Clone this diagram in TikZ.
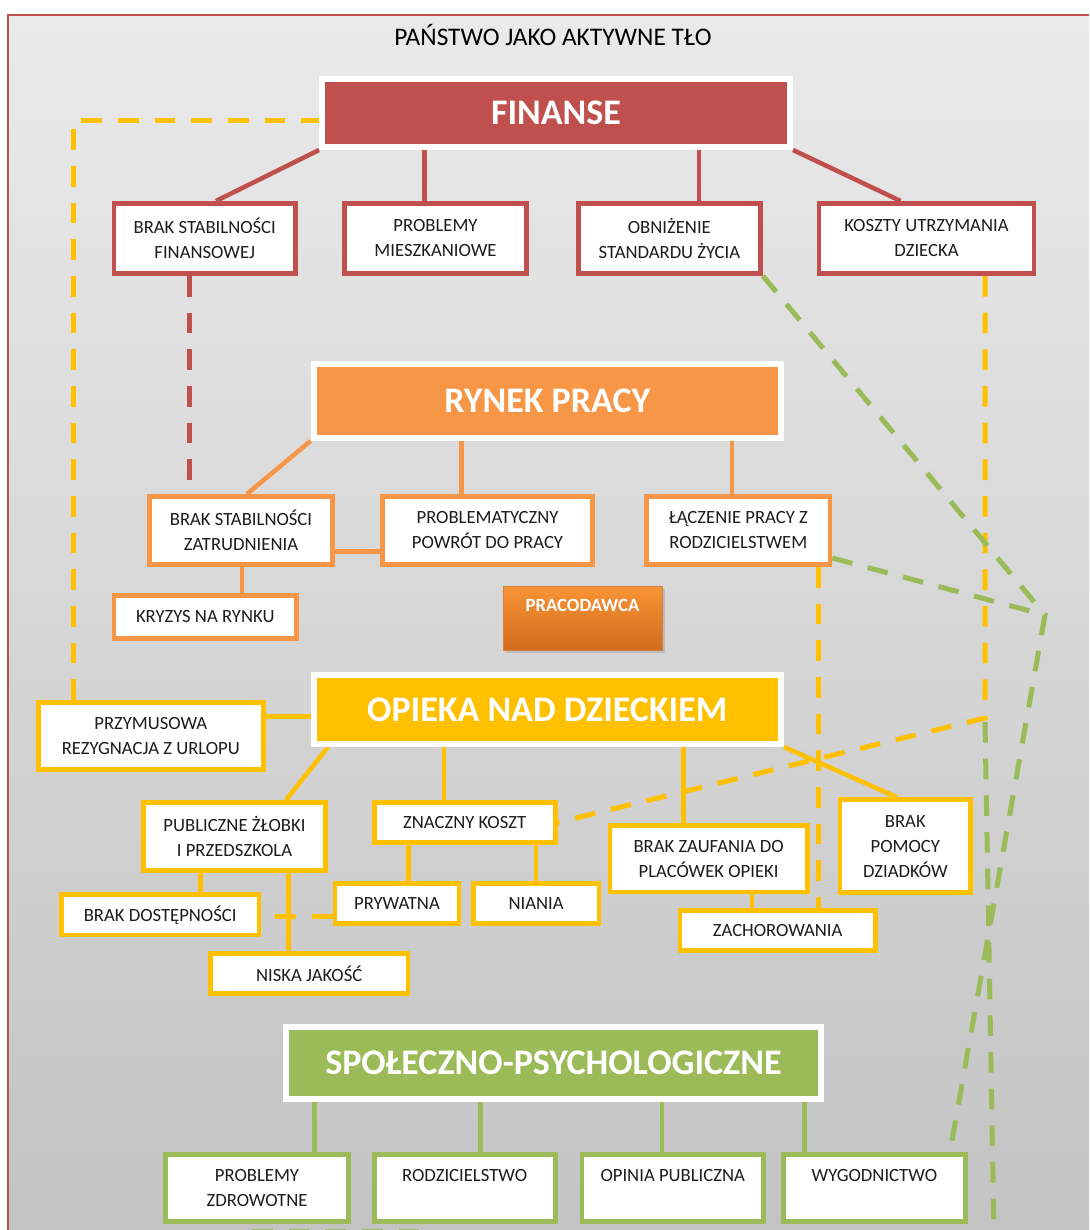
\documentclass[tikz,border=0pt]{standalone}
\usepackage{fontspec}
\setmainfont{Carlito}
\usetikzlibrary{shadows}
\definecolor{cred}{HTML}{C0504D}
\definecolor{corange}{HTML}{F79646}
\definecolor{cyellow}{HTML}{FFC000}
\definecolor{cgreen}{HTML}{9BBB59}
\definecolor{bgtop}{HTML}{EAEAEA}
\definecolor{bgbot}{HTML}{C3C3C3}
\definecolor{txt}{HTML}{1C1C1C}
\definecolor{ptop}{HTML}{F99436}
\definecolor{pbot}{HTML}{D26B1D}
\pgfdeclarelayer{bg}\pgfdeclarelayer{ln}\pgfsetlayers{bg,ln,main}
\begin{document}
\begin{tikzpicture}[x=0.75pt,y=-0.75pt,
 subbox/.style n args={3}{draw=#1, fill=white, line width=3.6pt,
   minimum width={#2*0.75pt-3.6pt}, minimum height={#3*0.75pt-3.6pt},
   inner sep=0pt, align=center, text=txt, font=\fontsize{14}{18.75}\selectfont,
   drop shadow={opacity=0.15,shadow xshift=1.5pt,shadow yshift=-1.5pt}},
 mainbox/.style n args={3}{draw=white, fill=#1, line width=4.5pt,
   minimum width={#2*0.75pt-4.5pt}, minimum height={#3*0.75pt-4.5pt},
   inner sep=0pt, text=white, font=\fontsize{27}{32}\selectfont\bfseries,
   drop shadow={opacity=0.25,shadow xshift=2pt,shadow yshift=-2pt}},
 lnred/.style={cred, line width=3.4pt},
 lnora/.style={corange, line width=3.4pt},
 lnyel/.style={cyellow, line width=3.4pt},
 lngrn/.style={cgreen, line width=3.4pt},
 dsh/.style={line width=3.75pt, dash pattern=on 15.5pt off 12pt},
 dsred/.style={dsh, cred},
 dsyel/.style={dsh, cyellow},
 dsgrn/.style={dsh, cgreen},
]
\useasboundingbox (0,0) rectangle (1089,1230);
\begin{pgfonlayer}{bg}
\fill[white] (0,0) rectangle (1089,1230);
\fill[top color=bgtop, bottom color=bgbot] (8,15) rectangle (1089,1230);
\draw[cred, line width=1.1pt] (1089,15) -- (8,15) -- (8,1230);
\end{pgfonlayer}

\node[anchor=base, font=\fontsize{19}{23}\selectfont, text=black] (T) at (553,46) {PAŃSTWO JAKO AKTYWNE TŁO};

% main boxes
\node[mainbox={cred}{474}{74}] (FIN) at (556,113) {FINANSE};
\node[mainbox={corange}{473.5}{80}] (RYN) at (547.25,401) {RYNEK PRACY};
\node[mainbox={cyellow}{473.5}{75}] (OPI) at (547.25,709.5) {OPIEKA NAD DZIECKIEM};
\node[mainbox={cgreen}{540.2}{78}] (SPO) at (553.5,1063) {SPOŁECZNO-PSYCHOLOGICZNE};

% finanse
\node[subbox={cred}{186.5}{75}] (F1) at (204.75,238.5) {BRAK STABILNOŚCI\\FINANSOWEJ};
\node[subbox={cred}{187}{75}] (F2) at (435.5,238.5) {PROBLEMY\\MIESZKANIOWE};
\node[subbox={cred}{187.3}{75}] (F3) at (669.35,238.5) {OBNIŻENIE\\STANDARDU ŻYCIA};
\node[subbox={cred}{219.8}{75}] (F4) at (926.5,238.5) {KOSZTY UTRZYMANIA\\DZIECKA};

% rynek pracy
\node[subbox={corange}{188}{73}] (R1) at (241,530.5) {BRAK STABILNOŚCI\\ZATRUDNIENIA};
\node[subbox={corange}{215}{73}] (R2) at (487.5,530.5) {PROBLEMATYCZNY\\POWRÓT DO PRACY};
\node[subbox={corange}{188}{73}] (R3) at (738.3,530.5) {ŁĄCZENIE PRACY Z\\RODZICIELSTWEM};
\node[subbox={corange}{187.5}{48}] (R4) at (205.25,617) {KRYZYS NA RYNKU};
\node[draw=corange!85!black, line width=0.6pt, top color=ptop, bottom color=pbot,
  minimum width={159*0.75pt}, minimum height={64*0.75pt}, inner sep=0pt, align=center,
  text=white, font=\fontsize{14}{18.75}\selectfont\bfseries,
  drop shadow={opacity=0.3,shadow xshift=2pt,shadow yshift=-2pt}] (PRA) at (582.5,618) {PRACODAWCA\\\vphantom{X}};

% opieka
\node[subbox={cyellow}{229.6}{72}] (O1) at (150.8,736) {PRZYMUSOWA\\REZYGNACJA Z URLOPU};
\node[subbox={cyellow}{187}{73}] (O2) at (234.5,836.5) {PUBLICZNE ŻŁOBKI\\I PRZEDSZKOLA};
\node[subbox={cyellow}{185.7}{45}] (O3) at (464.65,822.5) {ZNACZNY KOSZT};
\node[subbox={cyellow}{202.3}{45}] (O4) at (160.15,914.8) {BRAK DOSTĘPNOŚCI};
\node[subbox={cyellow}{128.7}{45}] (O5) at (396.95,903.5) {PRYWATNA};
\node[subbox={cyellow}{130.3}{45}] (O6) at (536.15,903.5) {NIANIA};
\node[subbox={cyellow}{202.4}{45}] (O7) at (309.2,973.5) {NISKA JAKOŚĆ};
\node[subbox={cyellow}{202}{71.6}] (O8) at (708.6,858.5) {BRAK ZAUFANIA DO\\PLACÓWEK OPIEKI};
\node[subbox={cyellow}{135.4}{97.7}] (O9) at (905.3,846.15) {BRAK\\POMOCY\\DZIADKÓW};
\node[subbox={cyellow}{200.2}{44.4}] (O10) at (777.7,930.5) {ZACHOROWANIA};

% spoleczno
\node[subbox={cgreen}{188}{72}] (S1) at (257,1188) {PROBLEMY\\ZDROWOTNE};
\node[subbox={cgreen}{185.7}{72}] (S2) at (464.65,1188) {RODZICIELSTWO\\\vphantom{X}};
\node[subbox={cgreen}{186.2}{72}] (S3) at (672.7,1188) {OPINIA PUBLICZNA\\\vphantom{X}};
\node[subbox={cgreen}{186.8}{72}] (S4) at (874.4,1188) {WYGODNICTWO\\\vphantom{X}};

\coordinate (gp) at (1045,615);
\coordinate (yc) at (985,718);
\coordinate (gv1) at (985,722);
\coordinate (gv2) at (994,1234);
\coordinate (gh1) at (252,1231);
\coordinate (gh2) at (420,1231);

\begin{pgfonlayer}{ln}
% finanse connectors
\draw[lnred] (FIN.south west) -- (F1.north -| 216,0);
\draw[lnred] (FIN.south -| 424.5,0) -- (F2.north -| 424.5,0);
\draw[lnred] (FIN.south -| 699,0) -- (F3.north -| 699,0);
\draw[lnred] (FIN.south east) -- (F4.north -| 900.6,0);
% rynek connectors
\draw[lnora] (RYN.south west) -- (R1.north -| 247,0);
\draw[lnora] (RYN.south -| 461.3,0) -- (R2.north -| 461.3,0);
\draw[lnora] (RYN.south -| 732,0) -- (R3.north -| 732,0);
\draw[lnora] (R1.east |- 0,551.7) -- (R2.west |- 0,551.7);
\draw[lnora] (R1.south -| 242,0) -- (R4.north -| 242,0);
% opieka connectors
\draw[lnyel] (O1.east |- 0,716.7) -- (OPI.west |- 0,716.7);
\draw[lnyel] (OPI.south -| 328,0) -- (O2.north -| 286,0);
\draw[lnyel] (OPI.south -| 443.8,0) -- (O3.north -| 443.8,0);
\draw[lnyel] (OPI.south -| 683.5,0) -- (O8.north -| 683.5,0);
\draw[lnyel] (OPI.south east) -- (O9.north -| 897,0);
\draw[lnyel] (O2.south -| 200.7,0) -- (O4.north -| 200.7,0);
\draw[lnyel] (O2.south -| 288.4,0) -- (O7.north -| 288.4,0);
\draw[lnyel] (O3.south -| 408.7,0) -- (O5.north -| 408.7,0);
\draw[lnyel] (O3.south -| 536,0) -- (O6.north -| 536,0);
\draw[lnyel] (O8.south -| 751.8,0) -- (O10.north -| 751.8,0);
% spoleczno connectors
\draw[lngrn] (SPO.south -| 314.7,0) -- (S1.north -| 314.7,0);
\draw[lngrn] (SPO.south -| 480.6,0) -- (S2.north -| 480.6,0);
\draw[lngrn] (SPO.south -| 661.8,0) -- (S3.north -| 661.8,0);
\draw[lngrn] (SPO.south -| 804.3,0) -- (S4.north -| 804.3,0);
% dashed relations
\draw[dsred] (F1.south -| 189,0) -- (R1.north -| 189,0);
\draw[dsyel] (O1.north -| 73.7,0) |- (FIN.west |- 0,121);
\draw[dsyel] (F4.south -| 985,0) -- (yc) -- (O3.east);
\draw[dsyel] (R3.south -| 818,0) -- (O10.north -| 818,0);
\draw[dsyel] (O5.west |- 0,916.7) -- (O4.east |- 0,916.7);
\draw[dsgrn] (gv1) -- (gv2);
\draw[dsgrn] (gh1) -- (gh2);
\draw[dsgrn] (F3.south east) -- (gp);
\draw[dsgrn] (R3.east |- 0,558) -- (gp) -- (S4.north -| 950,0);
\end{pgfonlayer}
\end{tikzpicture}
\end{document}
